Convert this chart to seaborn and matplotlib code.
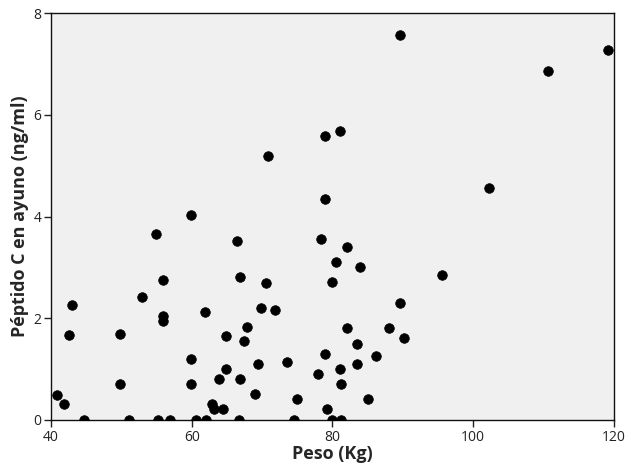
import matplotlib
matplotlib.use("Agg")
import matplotlib.pyplot as plt
import seaborn as sns
import pandas as pd

peso = [40.9, 41.8, 42.5, 43.0, 44.7, 49.8, 49.8, 51.1, 52.9, 54.9,
        55.2, 55.9, 55.9, 55.9, 56.9, 59.9, 59.9, 59.9, 60.6, 61.9,
        62.0, 62.9, 63.2, 63.9, 64.4, 64.9, 64.8, 66.4, 66.7, 66.9,
        66.9, 67.4, 67.9, 69.0, 69.4, 69.9, 70.5, 70.9, 71.9, 73.6,
        74.5, 74.9, 77.9, 78.4, 78.9, 79.0, 79.0, 79.2, 80.0, 80.0,
        80.5, 81.0, 81.0, 81.2, 81.2, 82.0, 82.0, 83.5, 83.5, 83.9,
        85.0, 86.2, 88.1, 89.6, 89.6, 90.2, 95.6, 102.2, 110.6, 119.1]
peptido = [0.50, 0.31, 1.68, 2.27, 0.0, 1.70, 0.71, 0.0, 2.42, 3.65,
           0.0, 2.04, 1.95, 2.76, 0.0, 4.03, 1.19, 0.71, 0.0, 2.12,
           0.0, 0.32, 0.21, 0.81, 0.21, 1.65, 1.01, 3.52, 0.0, 2.82,
           0.81, 1.55, 1.83, 0.51, 1.10, 2.21, 2.70, 5.19, 2.17, 1.14,
           0.0, 0.41, 0.91, 3.56, 1.30, 4.34, 5.58, 0.21, 2.71, 0.0,
           3.10, 5.68, 1.00, 0.71, 0.0, 3.41, 1.80, 1.50, 1.10, 3.00,
           0.41, 1.26, 1.81, 2.29, 7.57, 1.61, 2.85, 4.57, 6.87, 7.28]

x_ticks = [40, 60, 80, 100, 120]
y_ticks = [0, 2, 4, 6, 8]

df = pd.DataFrame({"Peso (Kg)": peso, "Péptido C en ayuno (ng/ml)": peptido})

sns.set_style("ticks")
plt.rcParams["font.family"] = ["Open Sans", "DejaVu Sans"]

fig = plt.figure(figsize=(6.28, 4.65), dpi=100)
ax = fig.add_axes([0.0812, 0.0968, 0.8965, 0.8752])
ax.set_facecolor("#f0f0f0")

sns.scatterplot(data=df, x="Peso (Kg)", y="Péptido C en ayuno (ng/ml)",
                ax=ax, color="black", s=48, edgecolor="black", linewidth=0.5,
                zorder=3)

ax.set_xlim(40, 120)
ax.set_ylim(0, 8)
ax.set_xticks(x_ticks)
ax.set_yticks(y_ticks)
ax.tick_params(axis="both", labelsize=10, colors="#222222", length=5,
               width=1, direction="out", pad=2)
for sp in ax.spines.values():
    sp.set_visible(True)
    sp.set_color("#111111")
    sp.set_linewidth(1.0)

ax.set_xlabel("Peso (Kg)", fontsize=13, fontweight="bold",
              fontstretch="normal", labelpad=0)
ax.set_ylabel("Péptido C en ayuno (ng/ml)", fontsize=13, fontweight="bold",
              fontstretch="normal", labelpad=3)

fig.savefig("out.png", dpi=100)
